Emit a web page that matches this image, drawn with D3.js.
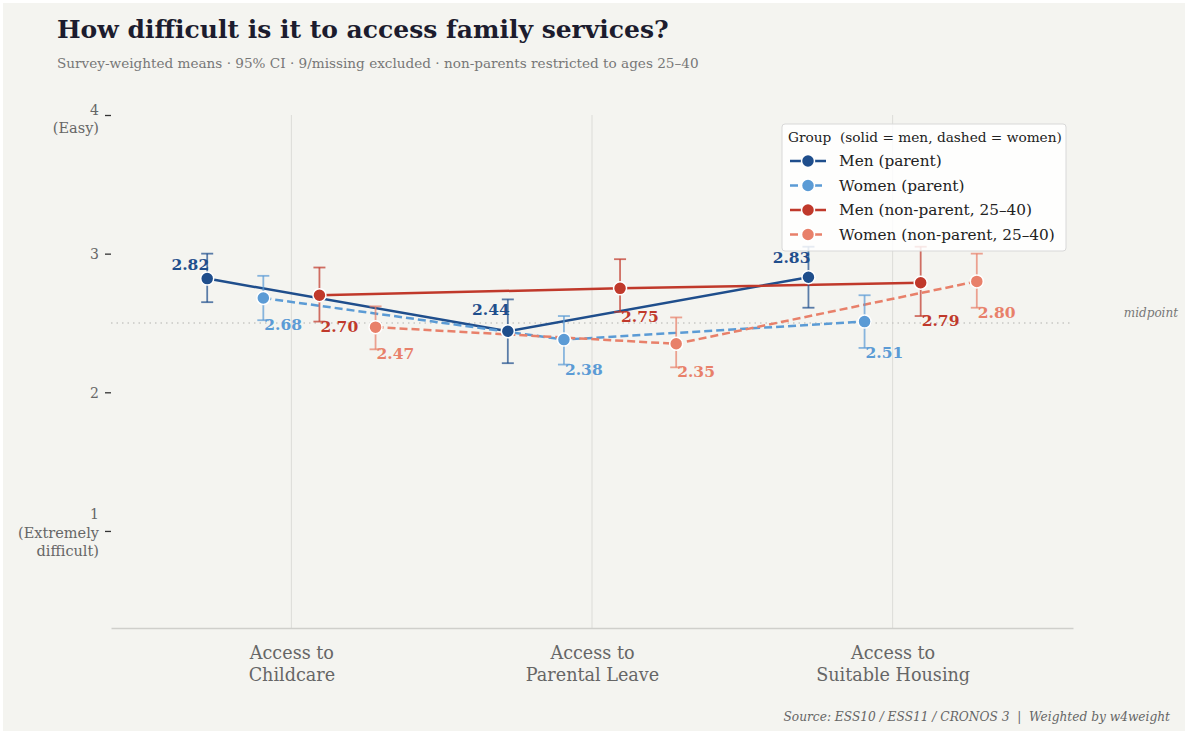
<!DOCTYPE html>
<html>
<head>
<meta charset="utf-8">
<script src="https://cdn.jsdelivr.net/npm/d3@7"></script>
<style>
  body { margin: 0; background: #ffffff; }
  svg text { font-family: "DejaVu Serif", Georgia, serif; white-space: pre; }
</style>
</head>
<body>
<script>
// categories / tick labels
const categories = [["Access to", "Childcare"], ["Access to", "Parental Leave"], ["Access to", "Suitable Housing"]];
const yTicks = [1, 2, 3, 4];
const yTickText = { 1: ["1", "(Extremely", "difficult)"], 2: ["2"], 3: ["3"], 4: ["4", "(Easy)"] };

const groups = ["Men (parent)", "Women (parent)", "Men (non-parent, 25–40)", "Women (non-parent, 25–40)"];

// means and 95% CI, per category
const menParentMean = [2.82, 2.44, 2.83];
const menParentLo   = [2.65, 2.21, 2.61];
const menParentHi   = [3.00, 2.67, 3.05];

const womenParentMean = [2.68, 2.38, 2.51];
const womenParentLo   = [2.52, 2.20, 2.32];
const womenParentHi   = [2.84, 2.55, 2.70];

const menNonMean = [2.70, 2.75, 2.79];
const menNonLo   = [2.51, 2.58, 2.55];
const menNonHi   = [2.90, 2.96, 3.05];

const womenNonMean = [2.47, 2.35, 2.80];
const womenNonLo   = [2.31, 2.18, 2.61];
const womenNonHi   = [2.62, 2.54, 3.00];

const series = [
  { name: groups[0], mean: menParentMean, lo: menParentLo, hi: menParentHi, color: "#1f4e8c", dash: null, above: true },
  { name: groups[1], mean: womenParentMean, lo: womenParentLo, hi: womenParentHi, color: "#5b9bd5", dash: "8,4", above: false },
  { name: groups[2], mean: menNonMean, lo: menNonLo, hi: menNonHi, color: "#c0392b", dash: null, above: false },
  { name: groups[3], mean: womenNonMean, lo: womenNonLo, hi: womenNonHi, color: "#e8806a", dash: "8,4", above: false }
];

const w = 1188, h = 734;
const pLeft = 111, pRight = 1073, pTop = 115, pBottom = 628;

const svg = d3.select("body").append("svg")
  .attr("width", w).attr("height", h);

svg.append("rect").attr("x", 3).attr("y", 3)
  .attr("width", w - 6).attr("height", h - 6)
  .attr("fill", "#f4f4f0");

const x = d3.scaleLinear().domain([-0.6, 2.6]).range([pLeft, pRight]);
const xOff = d3.scalePoint().domain(groups).range([-0.28, 0.28]);
const y = d3.scaleLinear().domain([0.3, 4]).range([pBottom, pTop]);

// vertical grid
svg.append("g").selectAll("line")
  .data(categories)
  .enter().append("line")
  .attr("x1", (d, i) => x(i)).attr("x2", (d, i) => x(i))
  .attr("y1", pTop).attr("y2", pBottom)
  .attr("stroke", "#dcdcd8").attr("stroke-width", 1);

// midpoint
svg.append("line")
  .attr("x1", pLeft).attr("x2", pRight)
  .attr("y1", y(2.5)).attr("y2", y(2.5))
  .attr("stroke", "#c8c8c4").attr("stroke-width", 1.5)
  .attr("stroke-dasharray", "1.5,4");
svg.append("text")
  .attr("x", 1178).attr("y", y(2.5) - 6)
  .attr("text-anchor", "end")
  .attr("font-size", 12).attr("font-style", "italic")
  .attr("fill", "#777")
  .text("midpoint");

// y axis
const yAxis = svg.append("g")
  .attr("transform", "translate(" + pLeft + ",0)")
  .call(d3.axisLeft(y).tickValues(yTicks).tickSize(6).tickFormat(""));
yAxis.select(".domain").remove();
yAxis.selectAll(".tick line").attr("stroke", "#333").attr("stroke-width", 1.3);
yAxis.selectAll(".tick").each(function(d) {
  const lines = yTickText[d];
  const t = d3.select(this).append("text")
    .attr("x", -12).attr("text-anchor", "end")
    .attr("fill", "#666").attr("font-size", 14);
  const off = d === 4 ? -1 : (d === 1 ? -12 : 5);
  lines.forEach((l, k) => {
    t.append("tspan").attr("x", -12)
      .attr("y", off + k * 18.5)
      .attr("font-size", k === 0 ? 14 : 14.5)
      .text(l);
  });
});

// x axis
const xAxis = svg.append("g")
  .attr("transform", "translate(0," + pBottom + ")")
  .call(d3.axisBottom(x).tickValues([0, 1, 2]).tickSize(0).tickFormat(""));
xAxis.select(".domain").attr("stroke", "#cfcfcb").attr("stroke-width", 1.5);
xAxis.selectAll(".tick").each(function(d) {
  const t = d3.select(this).append("text")
    .attr("text-anchor", "middle").attr("fill", "#666").attr("font-size", 17.6);
  categories[d].forEach((l, k) => {
    t.append("tspan").attr("x", 0).attr("y", 31 + k * 22).text(l);
  });
});

const line = d3.line()
  .x(d => d[0]).y(d => d[1]);

// lines
series.forEach(s => {
  const pts = s.mean.map((m, i) => [x(i + xOff(s.name)), y(m)]);
  svg.append("path")
    .attr("d", line(pts))
    .attr("fill", "none")
    .attr("stroke", s.color)
    .attr("stroke-width", 2.5)
    .attr("stroke-dasharray", s.dash);
});

// error bars
series.forEach(s => {
  const g = svg.append("g").attr("stroke", s.color).attr("stroke-opacity", 0.72)
    .attr("stroke-width", 1.8).attr("fill", "none");
  s.mean.forEach((m, i) => {
    const cx = x(i + xOff(s.name));
    g.append("line").attr("x1", cx).attr("x2", cx).attr("y1", y(s.lo[i])).attr("y2", y(s.hi[i]));
    g.append("line").attr("x1", cx - 6).attr("x2", cx + 6).attr("y1", y(s.lo[i])).attr("y2", y(s.lo[i]));
    g.append("line").attr("x1", cx - 6).attr("x2", cx + 6).attr("y1", y(s.hi[i])).attr("y2", y(s.hi[i]));
  });
});

// markers and value labels
series.forEach(s => {
  svg.append("g").selectAll("circle")
    .data(s.mean)
    .enter().append("circle")
    .attr("cx", (d, i) => x(i + xOff(s.name)))
    .attr("cy", d => y(d))
    .attr("r", 6.5)
    .attr("fill", s.color)
    .attr("stroke", "#fff").attr("stroke-width", 1.5);

  svg.append("g").selectAll("text")
    .data(s.mean)
    .enter().append("text")
    .attr("x", (d, i) => x(i + xOff(s.name)) + (s.above ? 2 : 1))
    .attr("y", (d, i) => s.above ? y(s.hi[i]) + 16 : y(s.lo[i]) + 10)
    .attr("text-anchor", s.above ? "end" : "start")
    .attr("font-size", 15.5).attr("font-weight", "bold")
    .attr("fill", s.color)
    .text(d => d.toFixed(2));
});

// legend
const lg = svg.append("g").attr("transform", "translate(782,124)");
lg.append("rect").attr("width", 284).attr("height", 127).attr("rx", 3)
  .attr("fill", "#fff").attr("fill-opacity", 0.85)
  .attr("stroke", "#d8d8d8");
lg.append("text").attr("x", 6).attr("y", 18).attr("font-size", 13.7).attr("fill", "#222")
  .text("Group  (solid = men, dashed = women)");
series.forEach((s, k) => {
  const gy = 37 + k * 24.5;
  lg.append("line").attr("x1", 8).attr("x2", 44).attr("y1", gy).attr("y2", gy)
    .attr("stroke", s.color).attr("stroke-width", 2.5)
    .attr("stroke-dasharray", s.dash);
  lg.append("circle").attr("cx", 26).attr("cy", gy).attr("r", 6.5)
    .attr("fill", s.color).attr("stroke", "#fff").attr("stroke-width", 1.5);
  lg.append("text").attr("x", 57).attr("y", gy + 5).attr("font-size", 15.3).attr("fill", "#222")
    .text(s.name);
});

// titles
svg.append("text").attr("x", 57).attr("y", 38)
  .attr("font-size", 25).attr("font-weight", "bold").attr("fill", "#1c1c2e")
  .text("How difficult is it to access family services?");
svg.append("text").attr("x", 57).attr("y", 68)
  .attr("font-size", 13.6).attr("fill", "#777")
  .text("Survey-weighted means · 95% CI · 9/missing excluded · non-parents restricted to ages 25–40");
svg.append("text").attr("x", 1170).attr("y", 721)
  .attr("text-anchor", "end").attr("font-size", 12.2).attr("font-style", "italic").attr("fill", "#666")
  .text("Source: ESS10 / ESS11 / CRONOS 3  |  Weighted by w4weight");
</script>
</body>
</html>
